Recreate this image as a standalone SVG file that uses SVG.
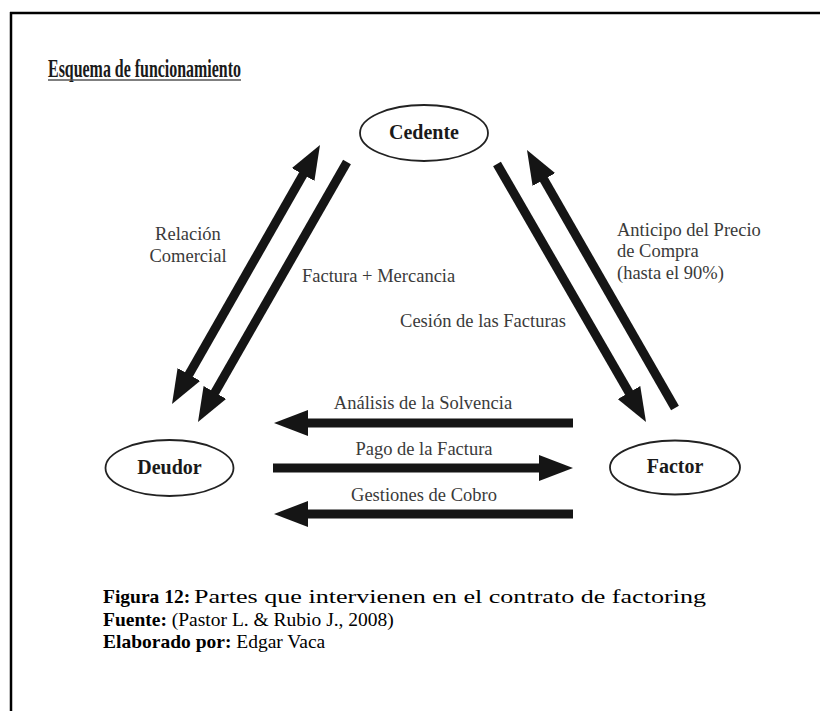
<svg xmlns="http://www.w3.org/2000/svg" width="820" height="711" viewBox="0 0 820 711">
<defs>
<style>
.frame{stroke:#000;stroke-width:2.5;fill:none}
.node ellipse{fill:#fff;stroke:#222;stroke-width:1.8}
.node text{font-family:"Liberation Serif","Times New Roman",serif;font-weight:bold;font-size:20px;fill:#1a1a1a;text-anchor:middle}
.conn line{stroke:#151515;stroke-width:9}
.lbl text{font-family:"Liberation Serif","Times New Roman",serif;font-size:18.5px;fill:#3a3a3a}
.cap text{font-family:"Liberation Serif","Times New Roman",serif;font-size:19.5px;fill:#000}
.title{font-family:"Liberation Serif","Times New Roman",serif;font-size:25px;font-weight:bold;fill:#1a1a1a}
</style>
<marker id="ah" markerUnits="userSpaceOnUse" markerWidth="34" markerHeight="26" refX="2" refY="13" orient="auto-start-reverse" viewBox="0 0 34 26">
<path d="M0,0 L34,13 L0,26 z" fill="#151515"/>
</marker>
</defs>
<rect width="820" height="711" fill="#fff"/>
<line class="frame" x1="10" y1="13" x2="820" y2="13"/>
<line class="frame" x1="11" y1="12" x2="11" y2="711"/>

<text class="title" x="48" y="77" textLength="193" lengthAdjust="spacingAndGlyphs">Esquema de funcionamiento</text>
<line x1="48" y1="80" x2="241" y2="80" stroke="#555" stroke-width="1.5"/>

<g id="cedente" class="node">
<ellipse cx="424" cy="133" rx="64" ry="28"/>
<text x="424" y="139">Cedente</text>
</g>
<g id="deudor" class="node">
<ellipse cx="169.5" cy="468" rx="64" ry="28"/>
<text x="169.5" y="474">Deudor</text>
</g>
<g id="factor" class="node">
<ellipse cx="675" cy="467.5" rx="65" ry="27"/>
<text x="675" y="473">Factor</text>
</g>

<g id="connectors" class="conn">
<line x1="187.9" y1="376.2" x2="304.1" y2="172.8" marker-start="url(#ah)" marker-end="url(#ah)"/>
<line x1="347" y1="162" x2="213.9" y2="394.2" marker-end="url(#ah)"/>
<line x1="497" y1="164" x2="630" y2="394.3" marker-end="url(#ah)"/>
<line x1="675" y1="408" x2="542.9" y2="177.8" marker-end="url(#ah)"/>
<line x1="573" y1="423" x2="306" y2="423" marker-end="url(#ah)"/>
<line x1="273" y1="468" x2="541" y2="468" marker-end="url(#ah)"/>
<line x1="573" y1="514" x2="306" y2="514" marker-end="url(#ah)"/>
</g>

<g id="labels" class="lbl">
<text x="188" y="240" text-anchor="middle">Relación</text>
<text x="188" y="262" text-anchor="middle">Comercial</text>
<text x="302" y="282">Factura + Mercancia</text>
<text x="566" y="327" text-anchor="end">Cesión de las Facturas</text>
<text x="617" y="236">Anticipo del Precio</text>
<text x="617" y="257">de Compra</text>
<text x="617" y="279">(hasta el 90%)</text>
<text x="423" y="409" text-anchor="middle">Análisis de la Solvencia</text>
<text x="424" y="455" text-anchor="middle">Pago de la Factura</text>
<text x="424" y="501" text-anchor="middle">Gestiones de Cobro</text>
</g>

<g id="caption" class="cap">
<text x="103" y="603" font-weight="bold">Figura 12:</text>
<text x="194" y="603" font-size="22" textLength="512" lengthAdjust="spacingAndGlyphs">Partes que intervienen en el contrato de factoring</text>
<text x="103" y="626"><tspan font-weight="bold">Fuente:</tspan> (Pastor L. &amp; Rubio J., 2008)</text>
<text x="103" y="648"><tspan font-weight="bold">Elaborado por:</tspan> Edgar Vaca</text>
</g>
</svg>
